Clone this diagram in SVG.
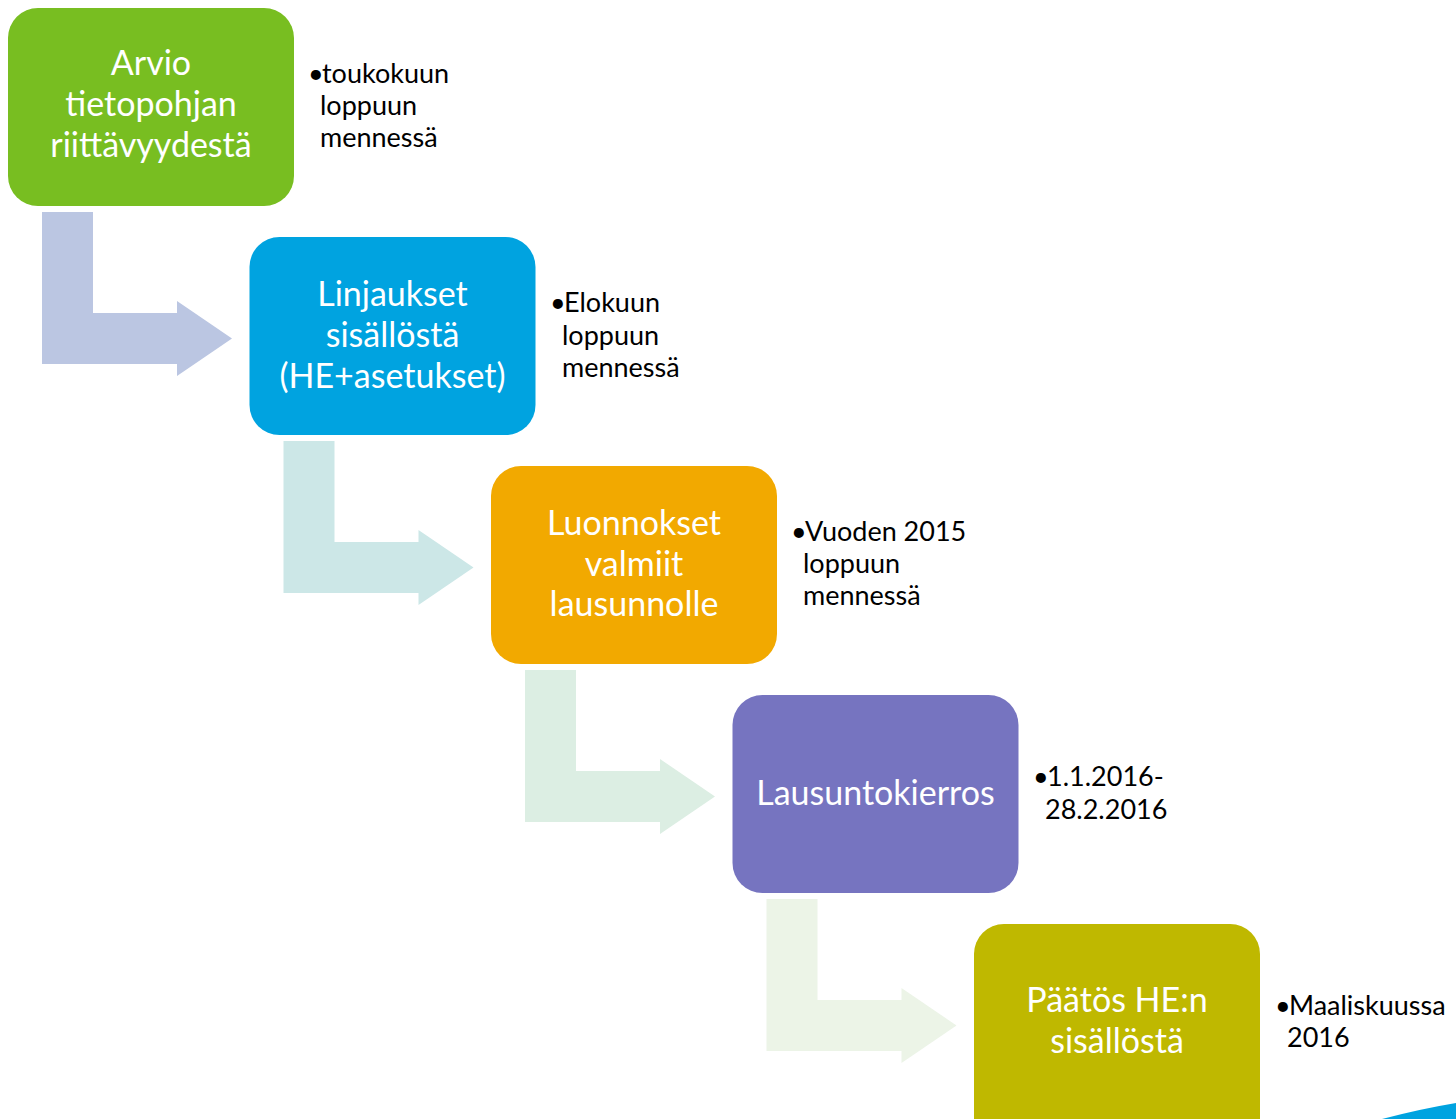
<svg xmlns="http://www.w3.org/2000/svg" width="1456" height="1119" viewBox="0 0 1456 1119">
<style>
.box text{font-family:Lato,"Open Sans","Liberation Sans",sans-serif;font-size:34px;fill:#fff;text-anchor:middle}
.note{font-family:Lato,"Open Sans","Liberation Sans",sans-serif;font-size:27px;fill:#000}
</style>
<rect width="1456" height="1119" fill="#fff"/>
<defs>
<path id="arr" d="M0,0 H51 V101 H135 V89 L190,126.5 L135,164 V152 H0 Z"/>
</defs>
<g id="connectors">
<use href="#arr" x="42" y="212" fill="#BBC6E2"/>
<use href="#arr" x="283.5" y="441" fill="#CCE7E7"/>
<use href="#arr" x="525" y="670" fill="#DCEEE3"/>
<use href="#arr" x="766.5" y="899" fill="#ECF4E7"/>
</g>
<g id="n1" class="box">
<rect x="8" y="8" width="286" height="198" rx="30" fill="#78BE21"/>
<text x="151" y="75">Arvio</text>
<text x="151" y="116">tietopohjan</text>
<text x="151" y="157">riittävyydestä</text>
</g>
<g id="n2" class="box">
<rect x="249.5" y="237" width="286" height="198" rx="30" fill="#00A3E0"/>
<text x="392.5" y="306">Linjaukset</text>
<text x="392.5" y="347">sisällöstä</text>
<text x="392.5" y="388">(HE+asetukset)</text>
</g>
<g id="n3" class="box">
<rect x="491" y="466" width="286" height="198" rx="30" fill="#F2A900"/>
<text x="634" y="535">Luonnokset</text>
<text x="634" y="576">valmiit</text>
<text x="634" y="616">lausunnolle</text>
</g>
<g id="n4" class="box">
<rect x="732.5" y="695" width="286" height="198" rx="30" fill="#7674C0"/>
<text x="875.5" y="805">Lausuntokierros</text>
</g>
<g id="n5" class="box">
<rect x="974" y="924" width="286" height="230" rx="30" fill="#BFB800"/>
<text x="1117" y="1012">Päätös HE:n</text>
<text x="1117" y="1053">sisällöstä</text>
</g>
<g id="t1" class="note">
<text x="308" y="83">•</text>
<text x="322" y="83">toukokuun</text>
<text x="320" y="115">loppuun</text>
<text x="320" y="147">mennessä</text>
</g>
<g id="t2" class="note">
<text x="550" y="312">•</text>
<text x="564" y="312">Elokuun</text>
<text x="562" y="345">loppuun</text>
<text x="562" y="377">mennessä</text>
</g>
<g id="t3" class="note">
<text x="791" y="541">•</text>
<text x="805" y="541">Vuoden 2015</text>
<text x="803" y="573">loppuun</text>
<text x="803" y="605">mennessä</text>
</g>
<g id="t4" class="note">
<text x="1033" y="786">•</text>
<text x="1047" y="786">1.1.2016-</text>
<text x="1045" y="819">28.2.2016</text>
</g>
<g id="t5" class="note">
<text x="1275" y="1015">•</text>
<text x="1289" y="1015">Maaliskuussa</text>
<text x="1287" y="1047">2016</text>
</g>
<path d="M1382,1119 Q1420,1109 1456,1103 V1119 Z" fill="#00A3E0"/>
</svg>
